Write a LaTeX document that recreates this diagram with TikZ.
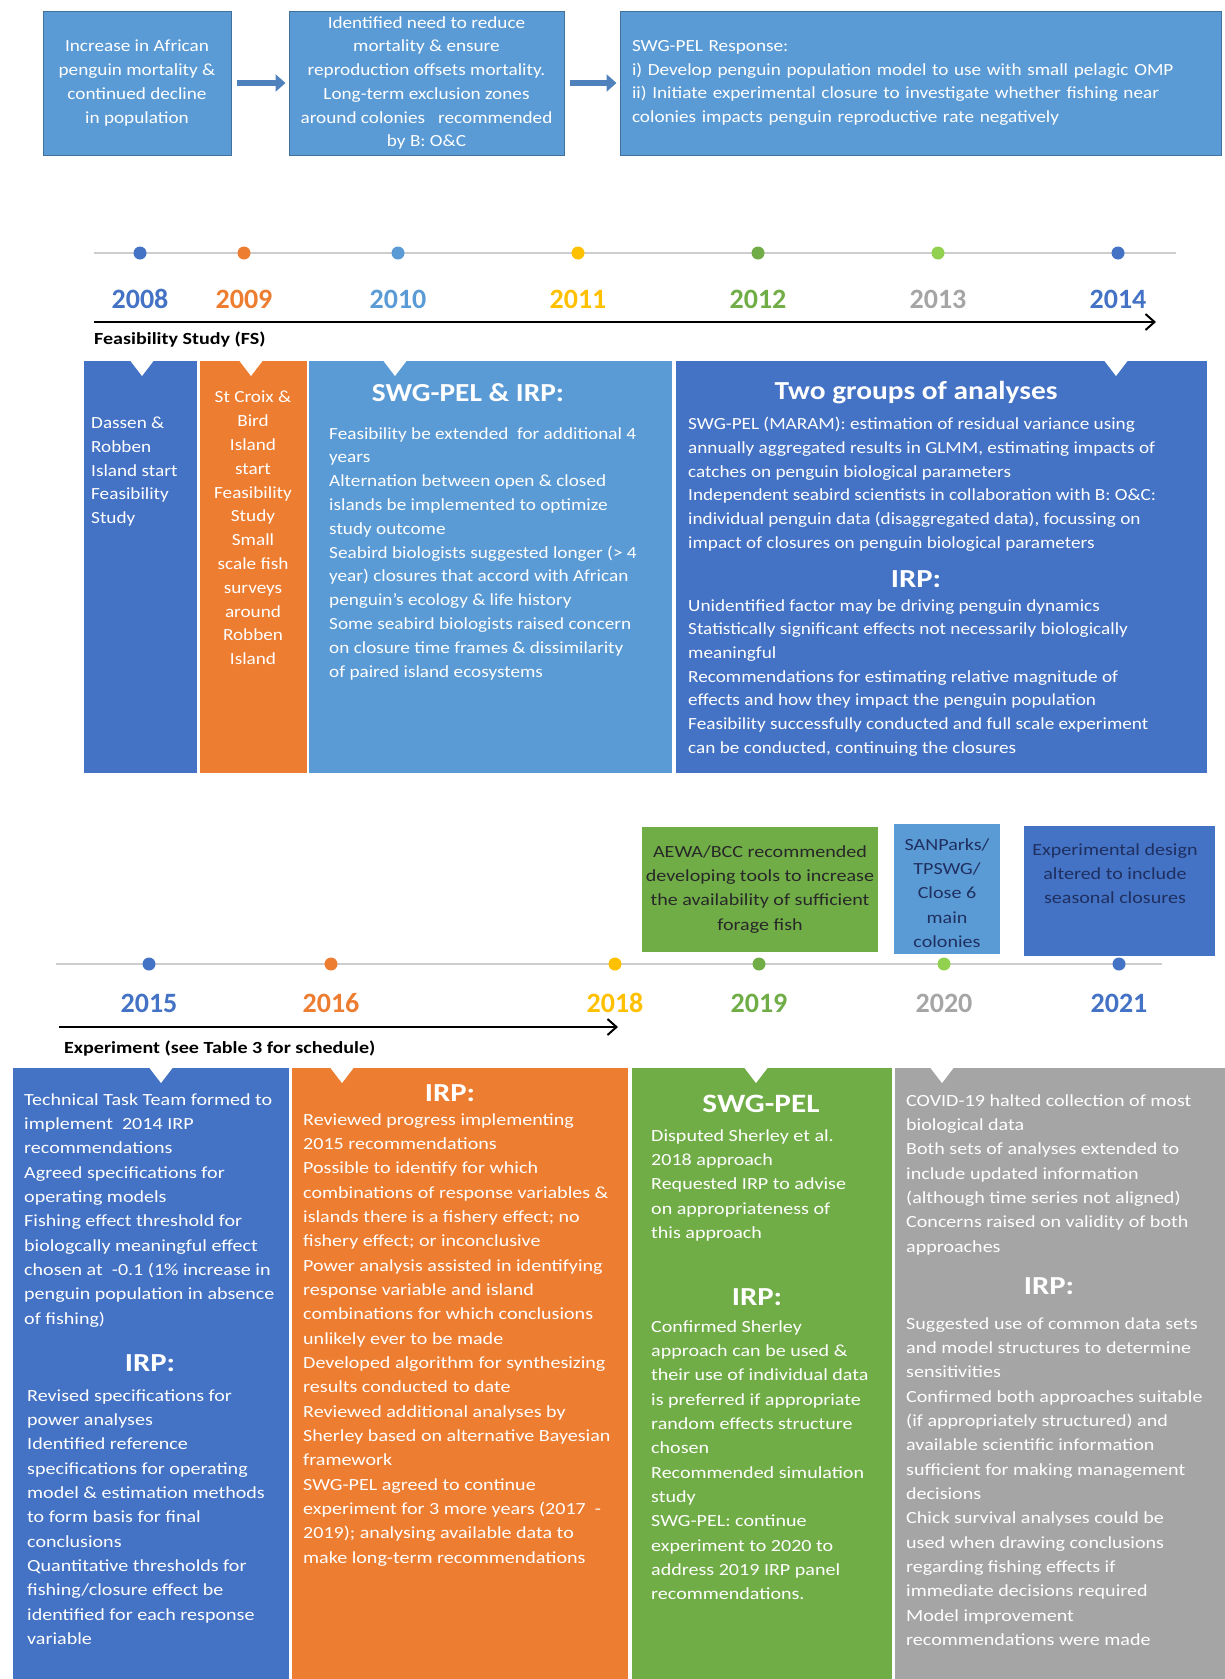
\documentclass[tikz,border=0pt]{standalone}
\usepackage{fontspec}
\setmainfont{Carlito}
\newfontfamily\wideTop{Carlito}[FakeStretch=1.13]
\newfontfamily\wideLow{Carlito}[FakeStretch=1.18]
\usepackage{tikz}
\usetikzlibrary{arrows.meta,positioning,calc}

\definecolor{darkBlue}{RGB}{68,114,196}
\definecolor{lightBlue}{RGB}{91,155,213}
\definecolor{edgeBlue}{RGB}{65,113,156}
\definecolor{arrowBlue}{RGB}{79,129,189}
\definecolor{warmOrange}{RGB}{237,125,49}
\definecolor{goldYellow}{RGB}{255,192,0}
\definecolor{grassGreen}{RGB}{112,173,71}
\definecolor{limeGreen}{RGB}{146,208,80}
\definecolor{midGray}{RGB}{165,165,165}
\definecolor{lineGray}{RGB}{205,205,205}
\definecolor{inkNavy}{RGB}{31,47,96}
\definecolor{inkDark}{RGB}{40,40,40}

\newcommand{\txtbody}{\wideTop\fontsize{17}{23.7}\selectfont}
\newcommand{\txtlow}{\wideLow\fontsize{17}{24.35}\selectfont}
\newcommand{\txthead}{\wideTop\fontsize{26}{30}\selectfont\bfseries}
\newcommand{\txtirp}{\wideLow\fontsize{26}{30}\selectfont\bfseries}
\newcommand{\txtyear}{\fontsize{28}{32}\selectfont\bfseries}
\newcommand{\txtphase}{\wideLow\fontsize{17}{20}\selectfont\bfseries}

\tikzset{
  topbox/.style={fill=lightBlue,draw=edgeBlue,line width=1pt,text=white,font=\txtbody,align=center,inner sep=0pt,minimum height=144pt},
  flowarrow/.style={arrowBlue,line width=6pt,-{Triangle[length=10pt,width=17pt]},shorten <=5pt,shorten >=3pt},
  axisline/.style={lineGray,line width=1.5pt},
  phasearrow/.style={black,line width=2.5pt,-{Straight Barb[length=9pt,width=16pt,line width=2pt]}},
  yeardot/.style={circle,inner sep=0pt,minimum size=13pt},
  yearlabel/.style={font=\txtyear,inner sep=0pt},
  phaselabel/.style={font=\txtphase,anchor=west,inner sep=0pt},
  paneltext/.style={font=\txtbody,text=white,align=left,anchor=north west,inner sep=0pt},
  lowtext/.style={font=\txtlow,text=white,align=left,anchor=north west,inner sep=0pt},
  panelhead/.style={font=\txthead,text=white,anchor=base,inner sep=0pt},
  irphead/.style={font=\txtirp,text=white,anchor=base,inner sep=0pt},
  notetext/.style={font=\txtlow,align=center,anchor=north,inner sep=0pt}
}

\begin{document}
\begin{tikzpicture}[x=1pt,y=-1pt]
\useasboundingbox (0,0) rectangle (1225,1679);

% Top row - problem, need, response
\node[topbox,minimum width=188pt] (increase) at (137,83)
  {Increase in African\\penguin mortality \&\\continued decline\\in population};
\node[topbox,minimum width=275pt] (identified) at (426.5,83)
  {Identified need to reduce\\mortality \& ensure\\reproduction offsets mortality.\\Long-term exclusion zones\\around colonies \ \ recommended\\by B: O\&C};
\node[topbox,minimum width=601pt,text width=577pt,align=left] (response) at (920.5,83)
  {SWG-PEL Response:\\i) Develop penguin population model to use with small pelagic OMP\\ii) Initiate experimental closure to investigate whether fishing near\\colonies impacts penguin reproductive rate negatively};
\draw[flowarrow] (increase) -- (identified);
\draw[flowarrow] (identified) -- (response);

% Timeline 2008 - 2014
\coordinate (axisAstart) at (94,253);
\coordinate (axisAend) at (1176,253);
\draw[axisline] (axisAstart) -- (axisAend);
\node[yeardot,fill=darkBlue] (dot2008) at (140,253) {};
\node[yeardot,fill=warmOrange] (dot2009) at (244,253) {};
\node[yeardot,fill=lightBlue] (dot2010) at (398,253) {};
\node[yeardot,fill=goldYellow] (dot2011) at (578,253) {};
\node[yeardot,fill=grassGreen] (dot2012) at (758,253) {};
\node[yeardot,fill=limeGreen] (dot2013) at (938,253) {};
\node[yeardot,fill=darkBlue] (dot2014) at (1118,253) {};
\node[yearlabel,text=darkBlue] (yr2008) at (140,299) {2008};
\node[yearlabel,text=warmOrange] (yr2009) at (244,299) {2009};
\node[yearlabel,text=lightBlue] (yr2010) at (398,299) {2010};
\node[yearlabel,text=goldYellow] (yr2011) at (578,299) {2011};
\node[yearlabel,text=grassGreen] (yr2012) at (758,299) {2012};
\node[yearlabel,text=midGray] (yr2013) at (938,299) {2013};
\node[yearlabel,text=darkBlue] (yr2014) at (1118,299) {2014};
\coordinate (fsStart) at (94,322);
\coordinate (fsEnd) at (1156,322);
\draw[phasearrow] (fsStart) -- (fsEnd);
\node[phaselabel] (fsLabel) at (94,340) {Feasibility Study (FS)};

% Feasibility - 2008
\fill[darkBlue] (84,361) rectangle (197,773);
\fill[white] (129,359) -- (155,359) -- (142,376) -- cycle;
\node[paneltext] (fsDassen) at (91,417) {Dassen \&\\Robben\\Island start\\Feasibility\\Study};
% Feasibility - 2009
\fill[warmOrange] (200,361) rectangle (307,773);
\fill[white] (238,359) -- (264,359) -- (251,376) -- cycle;
\node[paneltext,align=center,anchor=north,font=\wideTop\fontsize{17}{23.8}\selectfont] (fsStCroix) at (253,391)
  {St Croix \&\\Bird\\Island\\start\\Feasibility\\Study\\Small\\scale fish\\surveys\\around\\Robben\\Island};
% Feasibility - 2010
\fill[lightBlue] (309,361) rectangle (672,773);
\fill[white] (382,359) -- (408,359) -- (395,376) -- cycle;
\node[panelhead] (fsSwgHead) at (468,401) {SWG-PEL \& IRP:};
\node[paneltext,font=\wideTop\fontsize{17}{23.8}\selectfont] (fsSwgBody) at (329,427)
  {Feasibility be extended \ for additional 4\\years\\Alternation between open \& closed\\islands be implemented to optimize\\study outcome\\Seabird biologists suggested longer (> 4\\year) closures that accord with African\\penguin’s ecology \& life history\\Some seabird biologists raised concern\\on closure time frames \& dissimilarity\\of paired island ecosystems};
% Feasibility - 2011 to 2014
\fill[darkBlue] (676,361) rectangle (1207,773);
\fill[white] (1103,359) -- (1129,359) -- (1116,376) -- cycle;
\node[panelhead] (fsTwoHead) at (916,399) {Two groups of analyses};
\node[paneltext] (fsTwoBody) at (688,417)
  {SWG-PEL (MARAM): estimation of residual variance using\\annually aggregated results in GLMM, estimating impacts of\\catches on penguin biological parameters\\Independent seabird scientists in collaboration with B: O\&C:\\individual penguin data (disaggregated data), focussing on\\impact of closures on penguin biological parameters};
\node[irphead] (fsIrpHead) at (916,587) {IRP:};
\node[paneltext] (fsIrpBody) at (688,599)
  {Unidentified factor may be driving penguin dynamics\\Statistically significant effects not necessarily biologically\\meaningful\\Recommendations for estimating relative magnitude of\\effects and how they impact the penguin population\\Feasibility successfully conducted and full scale experiment\\can be conducted, continuing the closures};

% Notes above 2019 - 2021
\fill[grassGreen] (642,827) rectangle (878,952);
\node[notetext,text=inkDark] (noteAewa) at (760,845)
  {AEWA/BCC recommended\\developing tools to increase\\the availability of sufficient\\forage fish};
\fill[lightBlue] (894,824) rectangle (1000,954);
\node[notetext,text=inkNavy] (noteSanparks) at (947,838)
  {SANParks/\\TPSWG/\\Close 6\\main\\colonies};
\fill[darkBlue] (1024,826) rectangle (1215,956);
\node[notetext,text=inkNavy] (noteDesign) at (1115,843)
  {Experimental design\\altered to include\\seasonal closures};

% Timeline 2015 - 2021
\coordinate (axisBstart) at (56,964);
\coordinate (axisBend) at (1162,964);
\draw[axisline] (axisBstart) -- (axisBend);
\node[yeardot,fill=darkBlue] (dot2015) at (149,964) {};
\node[yeardot,fill=warmOrange] (dot2016) at (331,964) {};
\node[yeardot,fill=goldYellow] (dot2018) at (615,964) {};
\node[yeardot,fill=grassGreen] (dot2019) at (759,964) {};
\node[yeardot,fill=limeGreen] (dot2020) at (944,964) {};
\node[yeardot,fill=darkBlue] (dot2021) at (1119,964) {};
\node[yearlabel,text=darkBlue] (yr2015) at (149,1003) {2015};
\node[yearlabel,text=warmOrange] (yr2016) at (331,1003) {2016};
\node[yearlabel,text=goldYellow] (yr2018) at (615,1003) {2018};
\node[yearlabel,text=grassGreen] (yr2019) at (759,1003) {2019};
\node[yearlabel,text=midGray] (yr2020) at (944,1003) {2020};
\node[yearlabel,text=darkBlue] (yr2021) at (1119,1003) {2021};
\coordinate (expStart) at (59,1027);
\coordinate (expEnd) at (618,1027);
\draw[phasearrow] (expStart) -- (expEnd);
\node[phaselabel] (expLabel) at (64,1049) {Experiment (see Table 3 for schedule)};

% Experiment - 2015
\fill[darkBlue] (13,1068) rectangle (289,1679);
\fill[white] (148,1066) -- (174,1066) -- (161,1083) -- cycle;
\node[lowtext] (exTask) at (24,1093)
  {Technical Task Team formed to\\implement \ 2014 IRP\\recommendations\\Agreed specifications for\\operating models\\Fishing effect threshold for\\biologcally meaningful effect\\chosen at \ -0.1 (1\% increase in\\penguin population in absence\\of fishing)};
\node[irphead] (exIrpHead) at (150,1371) {IRP:};
\node[lowtext] (exIrpBody) at (27,1389)
  {Revised specifications for\\power analyses\\Identified reference\\specifications for operating\\model \& estimation methods\\to form basis for final\\conclusions\\Quantitative thresholds for\\fishing/closure effect be\\identified for each response\\variable};
% Experiment - 2016
\fill[warmOrange] (292,1068) rectangle (628,1679);
\fill[white] (329,1066) -- (355,1066) -- (342,1083) -- cycle;
\node[irphead] (prIrpHead) at (450,1101) {IRP:};
\node[lowtext] (prIrpBody) at (303,1113)
  {Reviewed progress implementing\\2015 recommendations\\Possible to identify for which\\combinations of response variables \&\\islands there is a fishery effect; no\\fishery effect; or inconclusive\\Power analysis assisted in identifying\\response variable and island\\combinations for which conclusions\\unlikely ever to be made\\Developed algorithm for synthesizing\\results conducted to date\\Reviewed additional analyses by\\Sherley based on alternative Bayesian\\framework\\SWG-PEL agreed to continue\\experiment for 3 more years (2017 \ -\\2019); analysing available data to\\make long-term recommendations};
% Experiment - 2019
\fill[grassGreen] (632,1068) rectangle (892,1679);
\fill[white] (743,1066) -- (769,1066) -- (756,1083) -- cycle;
\node[panelhead,font=\wideLow\fontsize{26.5}{30}\selectfont\bfseries] (swHead) at (761,1112) {SWG-PEL};
\node[lowtext] (swBody) at (651,1129)
  {Disputed Sherley et al.\\2018 approach\\Requested IRP to advise\\on appropriateness of\\this approach};
\node[irphead] (swIrpHead) at (757,1305) {IRP:};
\node[lowtext] (swIrpBody) at (651,1320)
  {Confirmed Sherley\\approach can be used \&\\their use of individual data\\is preferred if appropriate\\random effects structure\\chosen\\Recommended simulation\\study\\SWG-PEL: continue\\experiment to 2020 to\\address 2019 IRP panel\\recommendations.};
% Experiment - 2020
\fill[midGray] (895,1068) rectangle (1225,1679);
\fill[white] (929,1066) -- (955,1066) -- (942,1083) -- cycle;
\node[lowtext] (cvBody) at (906,1094)
  {COVID-19 halted collection of most\\biological data\\Both sets of analyses extended to\\include updated information\\(although time series not aligned)\\Concerns raised on validity of both\\approaches};
\node[irphead] (cvIrpHead) at (1049,1294) {IRP:};
\node[lowtext] (cvIrpBody) at (906,1317)
  {Suggested use of common data sets\\and model structures to determine\\sensitivities\\Confirmed both approaches suitable\\(if appropriately structured) and\\available scientific information\\sufficient for making management\\decisions\\Chick survival analyses could be\\used when drawing conclusions\\regarding fishing effects if\\immediate decisions required\\Model improvement\\recommendations were made};
\end{tikzpicture}
\end{document}
